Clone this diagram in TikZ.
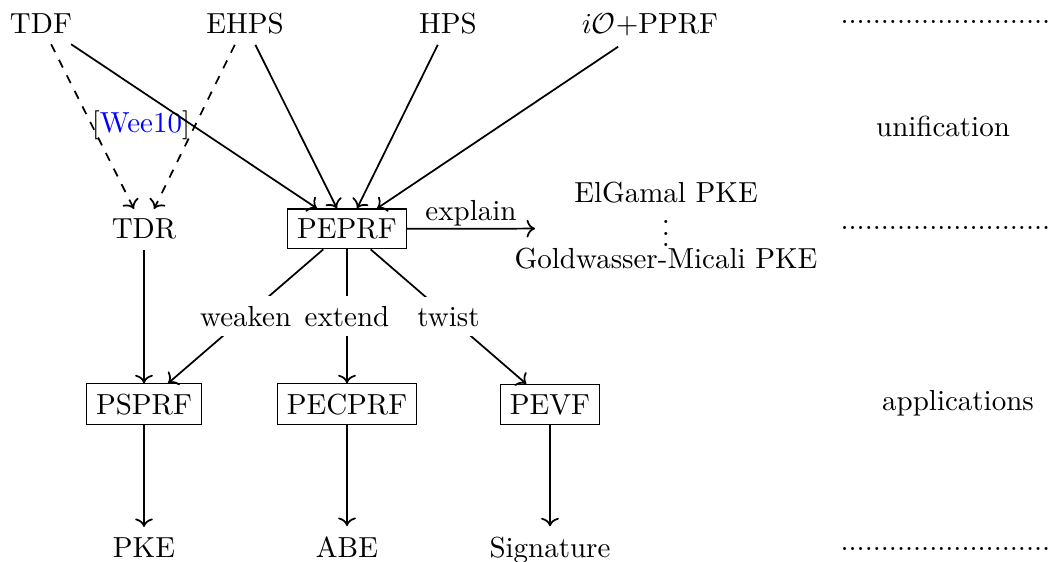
\documentclass[tikz,border=0pt]{standalone}
\usetikzlibrary{arrows.meta}
\begin{document}
\begin{tikzpicture}[x=0.3448pt,y=-0.3448pt,
  box/.style={draw,thin,inner sep=3.33pt},
  txt/.style={inner sep=3.33pt},
  edge/.style={semithick,->},
  dashedge/.style={semithick,dashed,->},
  mid/.style={fill=white,midway,inner sep=3.33pt},
  dotrow/.style={anchor=west,inner sep=0pt}]
\useasboundingbox (0,0) rectangle (1051,561);
% top row
\node[txt,anchor=base] (tdf)  at (41,34)  {TDF};
\node[txt,anchor=base] (ehps) at (245,34) {EHPS};
\node[txt,anchor=base] (hps)  at (448,34) {HPS};
\node[txt,anchor=base] (io)   at (650,34) {$i\mathcal{O}$+PPRF};
% middle row
\node[txt,anchor=base] (tdr)   at (144,239)   {TDR};
\node[box,anchor=base] (peprf) at (347,238.5) {PEPRF};
\coordinate (xe) at (535,228.6);
\node[txt,anchor=base] (elg) at (666,203) {ElGamal PKE};
\node[inner sep=0pt,anchor=base] (vd)  at (666,247) {$\vdots$};
\node[txt,anchor=base] (gm)  at (666,268) {Goldwasser-Micali PKE};
% box row
\node[box,anchor=base] (psprf)  at (144,414) {PSPRF};
\node[box,anchor=base] (pecprf) at (347,414) {PECPRF};
\node[box,anchor=base] (pevf)   at (550,414) {PEVF};
% bottom row
\node[txt,anchor=base] (pke) at (144,557) {PKE};
\node[txt,anchor=base] (abe) at (347,557) {ABE};
\node[txt,anchor=base] (sig) at (550,557) {Signature};
% right column
\node[dotrow] (d1) at (840,22)  {..........................};
\node[dotrow] (d2) at (840,228) {..........................};
\node[dotrow] (d3) at (840,549) {..........................};
\node[txt,anchor=base] (uni) at (943,137) {unification};
\node[txt,anchor=base] (app) at (958,410) {applications};
% citation
\node[txt] (wee) at (141,125) {[{\color{blue}Wee10}]};
% edges
\draw[dashedge] (tdf)  -- ([xshift=-3.45pt]tdr.north);
\draw[dashedge] (ehps) -- ([xshift=3.45pt]tdr.north);
\draw[edge] (tdf)  -- ([xshift=-10.35pt]peprf.north);
\draw[edge] (ehps) -- ([xshift=-3.45pt]peprf.north);
\draw[edge] (hps)  -- ([xshift=3.45pt]peprf.north);
\draw[edge] (io)   -- ([xshift=10.35pt]peprf.north);
\draw[edge] (peprf) -- node[above,inner sep=0.6pt] (ex) {explain} (xe);
\draw[edge] (tdr) -- (psprf);
\draw[edge] (peprf) -- node[mid] (wk) {weaken} (psprf);
\draw[edge] (peprf) -- node[mid] (et) {extend} (pecprf);
\draw[edge] (peprf) -- node[mid] (tw) {twist} (pevf);
\draw[edge] (psprf)  -- (pke);
\draw[edge] (pecprf) -- (abe);
\draw[edge] (pevf)   -- (sig);
\end{tikzpicture}
\end{document}
